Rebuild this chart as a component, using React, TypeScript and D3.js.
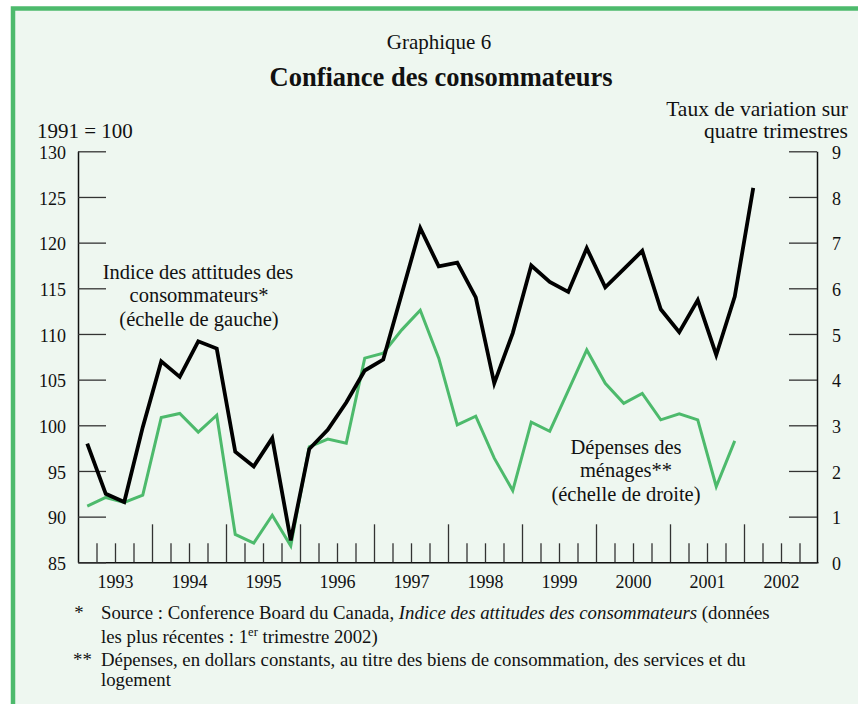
import React, { useRef, useEffect } from "react";
import * as d3 from "d3";

// quarterly data, 1993Q1 onwards
const years = [1993, 1994, 1995, 1996, 1997, 1998, 1999, 2000, 2001, 2002];
const firstYear = 1993;
const lastYear = 2003;

// Conference Board index (1991 = 100), left scale, 1993Q1 - 2002Q1
const confidenceIndex = [
  98, 92.5, 91.6, 99.8, 107, 105.3, 109.2, 108.4, 97.1, 95.5, 98.6, 87.4,
  97.4, 99.5, 102.5, 106, 107.2, 114.4, 121.6, 117.4, 117.8, 114, 104.6, 110.1,
  117.5, 115.7, 114.6, 119.4, 115.1, 117.1, 119.1, 112.7, 110.2, 113.7, 107.7, 114.1,
  126,
];

// household spending, % change over 4 quarters, right scale, 1993Q1 - 2001Q4
const householdSpending = [
  1.23, 1.42, 1.31, 1.47, 3.17, 3.26, 2.85, 3.22, 0.61, 0.42, 1.03, 0.36,
  2.53, 2.7, 2.61, 4.47, 4.58, 5.09, 5.52, 4.47, 3.01, 3.2, 2.28, 1.57,
  3.07, 2.87, 3.76, 4.65, 3.92, 3.48, 3.7, 3.12, 3.25, 3.12, 1.66, 2.66,
];

const leftTicks = [85, 90, 95, 100, 105, 110, 115, 120, 125, 130];
const rightTicks = [0, 1, 2, 3, 4, 5, 6, 7, 8, 9];

const W = 858;
const H = 704;
const FONT = '"Liberation Serif", "DejaVu Serif", serif';
const GREEN = "#4dba6c";
const BG = "#eef7f0";

const left = 78;
const right = 818;
const top = 151.3;
const bottom = 562.3;

// quarter midpoint on the time axis
const quarterTime = (i: number) => firstYear + (i + 0.5) / 4;

const ConsumerConfidence = () => {
  const leftRef = useRef<SVGGElement>(null);
  const rightRef = useRef<SVGGElement>(null);
  const minorRef = useRef<SVGGElement>(null);
  const majorRef = useRef<SVGGElement>(null);
  const labelRef = useRef<SVGGElement>(null);

  const x = d3.scaleLinear().domain([firstYear, lastYear]).range([left, right]);
  const yL = d3.scaleLinear().domain([85, 130]).range([bottom, top]);
  const yR = d3.scaleLinear().domain([0, 9]).range([bottom, top]);

  useEffect(() => {
    // left scale
    d3.select(leftRef.current)
      .call(d3.axisLeft(yL).tickValues(leftTicks).tickSizeInner(-28).tickSizeOuter(0).tickPadding(12) as any)
      .call((g) => g.selectAll("text").attr("dy", "0.4em"));

    // right scale
    d3.select(rightRef.current)
      .call(d3.axisRight(yR).tickValues(rightTicks).tickSizeInner(-28).tickSizeOuter(0).tickPadding(15) as any)
      .call((g) => g.selectAll("text").attr("dy", "0.4em"));

    // quarter ticks
    const quarters: number[] = [];
    for (let yr = firstYear; yr < lastYear; yr++) {
      quarters.push(yr + 0.25, yr + 0.5, yr + 0.75);
    }
    d3.select(minorRef.current)
      .call(d3.axisBottom(x).tickValues(quarters).tickSizeInner(-19).tickSizeOuter(0).tickFormat(() => "") as any);

    // year ticks
    d3.select(majorRef.current)
      .call(d3.axisBottom(x).tickValues(years.slice(1)).tickSizeInner(-38).tickSizeOuter(0).tickFormat(() => "") as any)
      .call((g) => g.select(".domain").remove());

    // year labels centred on each year
    d3.select(labelRef.current)
      .call(d3.axisBottom(x).tickValues(years.map((d) => d + 0.5)).tickSize(0).tickPadding(13).tickFormat((d: any) => String(Math.floor(d))) as any)
      .call((g) => g.select(".domain").remove());

    // shared styling
    [leftRef, rightRef, minorRef, majorRef, labelRef].forEach((r) => {
      const g = d3.select(r.current);
      g.attr("font-family", FONT).attr("font-size", 18);
      g.selectAll("text").attr("fill", "#111");
      g.selectAll("line").attr("stroke", "#333").attr("stroke-width", 1.3);
      g.selectAll(".domain").attr("stroke", "#111").attr("stroke-width", 1.5);
    });
  });

  const indexLine = d3
    .line<number>()
    .x((_, i) => x(quarterTime(i)))
    .y((d) => yL(d));
  const spendingLine = d3
    .line<number>()
    .x((_, i) => x(quarterTime(i)))
    .y((d) => yR(d));

  return (
    <svg width={W} height={H} style={{ position: "absolute", left: 0, top: 0 }} fontFamily={FONT}>
      <rect width={W} height={H} fill="#fff" />
      <rect x={13} y={8.5} width={W + 40} height={H + 40} fill={BG} stroke={GREEN} strokeWidth={4.5} />

      <text x={439} y={49} textAnchor="middle" fontSize={21} fill="#111">Graphique 6</text>
      <text x={441} y={86} textAnchor="middle" fontSize={26.5} fontWeight="bold" fill="#111">Confiance des consommateurs</text>

      <text x={37} y={138} fontSize={21} fill="#111">1991 = 100</text>
      <text x={848} y={116} textAnchor="end" fontSize={21.5} fill="#111">Taux de variation sur</text>
      <text x={848} y={138} textAnchor="end" fontSize={21.5} fill="#111">quatre trimestres</text>

      <g ref={minorRef} transform={`translate(0,${bottom})`} />
      <g ref={majorRef} transform={`translate(0,${bottom})`} />
      <g ref={labelRef} transform={`translate(0,${bottom})`} />
      <g ref={leftRef} transform={`translate(${left},0)`} />
      <g ref={rightRef} transform={`translate(${right - 1},0)`} />

      <path d={spendingLine(householdSpending) || ""} fill="none" stroke={GREEN} strokeWidth={3} strokeLinejoin="miter" />
      <path d={indexLine(confidenceIndex) || ""} fill="none" stroke="#000" strokeWidth={3.8} strokeLinejoin="miter" />

      <g fontSize={20.5} fill="#111" textAnchor="middle">
        <text x={198} y={279}>Indice des attitudes des</text>
        <text x={199} y={302}>consommateurs*</text>
        <text x={199} y={326}>(échelle de gauche)</text>
        <text x={626} y={454}>Dépenses des</text>
        <text x={626} y={477}>ménages**</text>
        <text x={626} y={501}>(échelle de droite)</text>
      </g>

      <g fontSize={18.8} fill="#111">
        <text x={79} y={619} textAnchor="middle">*</text>
        <text x={101} y={619}>
          Source : Conference Board du Canada, <tspan fontStyle="italic">Indice des attitudes des consommateurs</tspan> (données
        </text>
        <text x={101} y={643}>
          les plus récentes : 1<tspan fontSize={12.5} dy={-7}>er</tspan>
          <tspan dy={7}> trimestre 2002)</tspan>
        </text>
        <text x={73} y={666}>**</text>
        <text x={101} y={666}>
          Dépenses, en dollars constants, au titre des biens de consommation, des services et du
        </text>
        <text x={101} y={686}>logement</text>
      </g>
    </svg>
  );
};

export default function App() {
  return <ConsumerConfidence />;
}
